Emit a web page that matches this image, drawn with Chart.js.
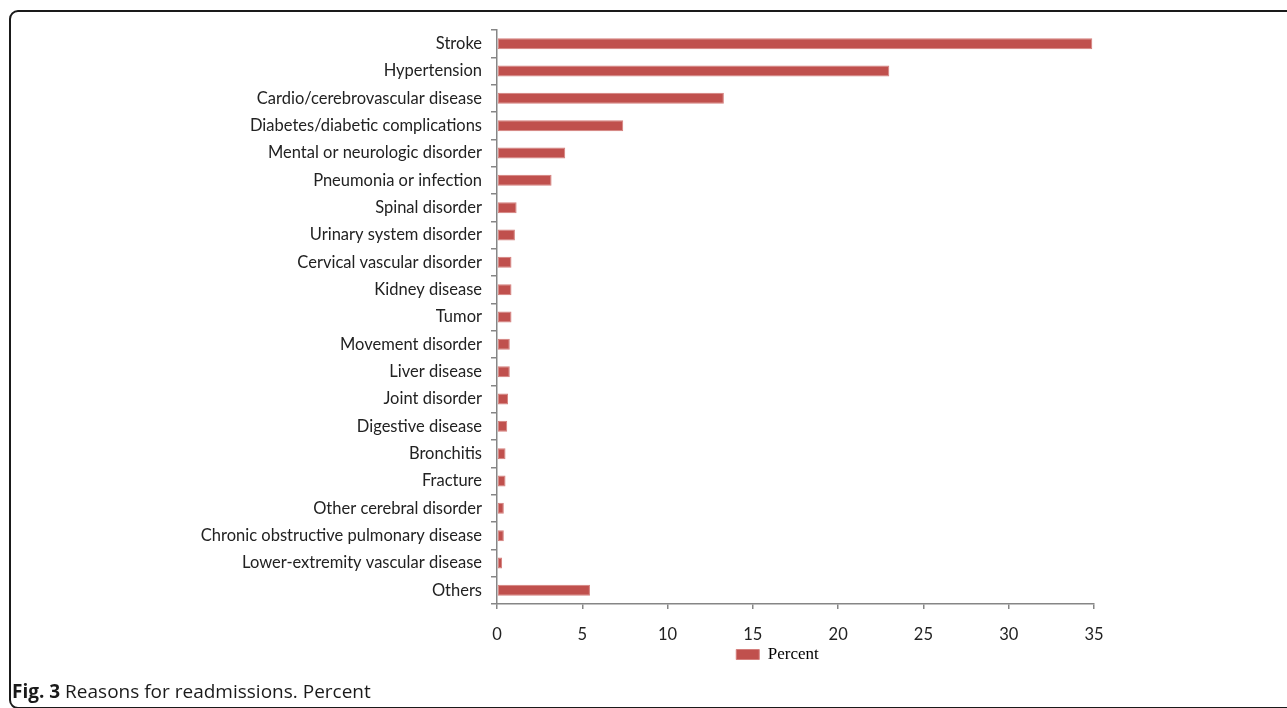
<!DOCTYPE html>
<html>
<head>
<meta charset="utf-8">
<script src="https://cdn.jsdelivr.net/npm/chart.js@4.4.1/dist/chart.umd.min.js"></script>
<style>
    body { margin: 0; background: #fff; width: 1287px; height: 708px; overflow: hidden; position: relative; }
    #frame { position: absolute; left: 9px; top: 10px; width: 1300px; height: 695px; border: 2px solid #1a1a1a; border-radius: 9px; }
    #wrap { position: absolute; left: 0; top: 0; width: 1287px; height: 680px; }
    #caption { position: absolute; left: 12px; top: 678px; font-family: "Open Sans", sans-serif; font-size: 19px; color: #1a1a1a; white-space: nowrap; }
</style>
</head>
<body>
<div id="frame"></div>
<div id="wrap"><canvas id="barChart"></canvas></div>
<div id="caption"><b>Fig. 3</b> Reasons for readmissions. Percent</div>
<script>
// Alasan readmisi (persen)
const categories = [
    "Stroke",
    "Hypertension",
    "Cardio/cerebrovascular disease",
    "Diabetes/diabetic complications",
    "Mental or neurologic disorder",
    "Pneumonia or infection",
    "Spinal disorder",
    "Urinary system disorder",
    "Cervical vascular disorder",
    "Kidney disease",
    "Tumor",
    "Movement disorder",
    "Liver disease",
    "Joint disorder",
    "Digestive disease",
    "Bronchitis",
    "Fracture",
    "Other cerebral disorder",
    "Chronic obstructive pulmonary disease",
    "Lower-extremity vascular disease",
    "Others"
];
const percentValues = [34.9, 23.0, 13.3, 7.4, 4.0, 3.2, 1.15, 1.05, 0.85, 0.85, 0.85, 0.75, 0.75, 0.65, 0.6, 0.5, 0.5, 0.4, 0.4, 0.3, 5.45];
const xTicks = [0, 5, 10, 15, 20, 25, 30, 35];

const axisColor = "#868686";
const labelFont = { family: "Lato, sans-serif", size: 16.5 };

// Geser legenda sedikit ke kiri supaya posisinya sama dengan gambar
const legendShift = {
    id: "legendShift",
    afterLayout(chart) {
        chart.legend.left -= 18;
        chart.legend.right -= 18;
    }
};

const ctx = document.getElementById("barChart").getContext("2d");
new Chart(ctx, {
    type: "bar",
    data: {
        labels: categories,
        datasets: [{
            label: "Percent",
            data: percentValues,
            backgroundColor: "#C0504D",
            borderColor: "#D47F7C",
            borderWidth: 1,
            borderSkipped: false,
            barPercentage: 0.4,
            categoryPercentage: 1
        }]
    },
    options: {
        indexAxis: "y",
        responsive: true,
        maintainAspectRatio: false,
        animation: false,
        layout: { padding: { left: 10, right: 193, top: 30, bottom: 7 } },
        scales: {
            x: {
                min: 0,
                max: 35,
                afterBuildTicks: (scale) => { scale.ticks = xTicks.map(v => ({ value: v })); },
                afterFit: (scale) => { scale.height = 38; },
                border: { color: axisColor, width: 1.5 },
                grid: { drawOnChartArea: false, drawTicks: true, tickLength: 5, color: axisColor, lineWidth: 1.5 },
                ticks: { font: labelFont, color: "#222", padding: 16, maxRotation: 0 }
            },
            y: {
                afterFit: (scale) => { scale.width = 487; },
                border: { color: axisColor, width: 1.5 },
                grid: { offset: true, drawOnChartArea: false, drawTicks: true, tickLength: 6, color: axisColor, lineWidth: 1.5 },
                ticks: { font: labelFont, color: "#222", padding: 9, autoSkip: false }
            }
        },
        plugins: {
            legend: {
                position: "bottom",
                fullSize: false,
                labels: {
                    boxWidth: 23,
                    boxHeight: 10,
                    padding: 4,
                    color: "#000",
                    font: { family: "'Liberation Serif', 'Times New Roman', serif", size: 17 }
                }
            },
            tooltip: { enabled: false }
        }
    },
    plugins: [legendShift]
});
</script>
</body>
</html>
